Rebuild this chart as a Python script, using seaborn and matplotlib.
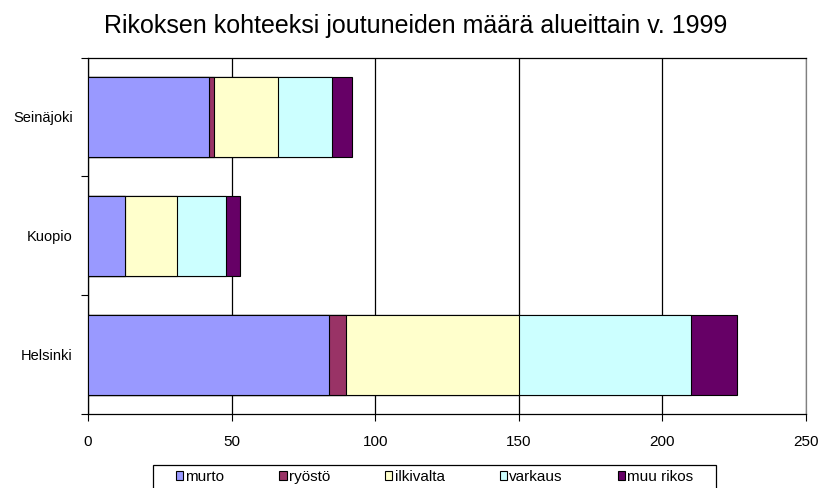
import numpy as np
import pandas as pd
import matplotlib
matplotlib.use("Agg")
import matplotlib.pyplot as plt
from matplotlib.patches import Patch, Rectangle
from matplotlib.ticker import FixedLocator
import seaborn as sns

# Data
regions = ["Seinäjoki", "Kuopio", "Helsinki"]
murto = [42, 13, 84]
ryosto = [2, 0, 6]
ilkivalta = [22, 18, 60]
varkaus = [19, 17, 60]
muu_rikos = [7, 5, 16]

series_names = ["murto", "ryöstö", "ilkivalta", "varkaus", "muu rikos"]
colors = ["#9999FF", "#993366", "#FFFFCC", "#CCFFFF", "#660066"]

sns.set_style("white")
plt.rcParams["font.family"] = ["Liberation Sans", "DejaVu Sans"]
plt.rcParams["text.color"] = "black"
plt.rcParams["xtick.color"] = "black"
plt.rcParams["ytick.color"] = "black"

values = np.array([murto, ryosto, ilkivalta, varkaus, muu_rikos])
cum = values.cumsum(axis=0)

W, H = 822, 488
fig = plt.figure(figsize=(W / 100, H / 100), dpi=100)
ax = fig.add_axes([88 / W, 1 - 414 / H, (806 - 88) / W, (414 - 57.5) / H])

# draw cumulative totals from longest to shortest so they stack visually
for i in range(len(series_names) - 1, -1, -1):
    df = pd.DataFrame({"region": regions, "total": cum[i]})
    sns.barplot(data=df, x="total", y="region", order=regions, color=colors[i],
                width=0.673, edgecolor="black", linewidth=0.8, saturation=1,
                ax=ax, zorder=3)

ax.set_xlim(0, 250)
ax.set_ylim(2.5, -0.5)
ax.set_xticks([0, 50, 100, 150, 200, 250])
ax.xaxis.grid(True, color="black", linewidth=0.9, zorder=0)
ax.yaxis.grid(False)
ax.set_xlabel("")
ax.set_ylabel("")

for s in ax.spines.values():
    s.set_color("black")
    s.set_linewidth(0.9)
ax.spines["right"].set_color("#808080")

ax.yaxis.set_minor_locator(FixedLocator([-0.5, 0.5, 1.5, 2.5]))
ax.tick_params(axis="y", which="major", length=0, pad=11, labelsize=10.5)
ax.tick_params(axis="y", which="minor", length=5, width=0.8, color="black", direction="out", left=True)
ax.tick_params(axis="x", which="major", length=5, width=0.8, color="black", direction="out",
               bottom=True, pad=10, labelsize=11)

fig.text(415.5 / W, 1 - 32.7 / H, "Rikoksen kohteeksi joutuneiden määrä alueittain v. 1999",
         ha="center", va="baseline", fontsize=18, color="black")

# legend box (runs off the bottom edge like the original)
fig.patches.append(Rectangle((153 / W, -0.05), (716 - 153) / W, 0.05 + 1 - 465 / H,
                             transform=fig.transFigure, facecolor="white",
                             edgecolor="black", linewidth=0.9, zorder=1))

handles = [Patch(facecolor=c, edgecolor="black", linewidth=0.8) for c in colors]
leg = fig.legend(handles, series_names, loc="upper left",
                 bbox_to_anchor=(176 / W, 1 - 470 / H),
                 ncol=5, frameon=False, fontsize=11, handlelength=0.47,
                 handleheight=0.47, handletextpad=0.15, columnspacing=3.6,
                 borderpad=0, borderaxespad=0)
leg.set_zorder(2)

fig.savefig("out.png", dpi=100)
